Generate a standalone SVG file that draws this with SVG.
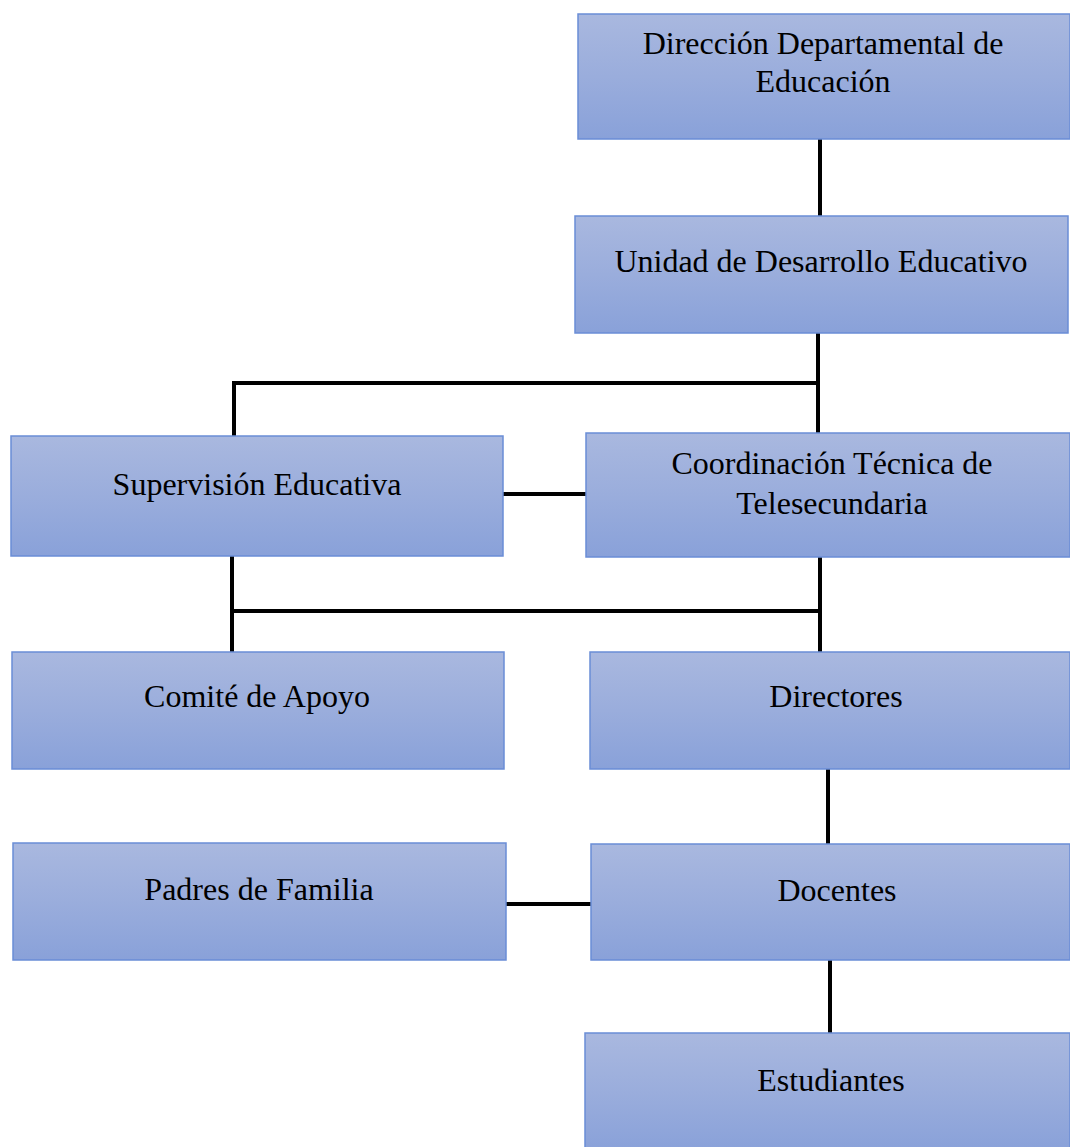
<svg xmlns="http://www.w3.org/2000/svg" width="1070" height="1147" viewBox="0 0 1070 1147">
<defs>
<linearGradient id="g" x1="0" y1="0" x2="0" y2="1">
<stop offset="0" stop-color="#a9b8df"/>
<stop offset="0.5" stop-color="#9aaddc"/>
<stop offset="1" stop-color="#89a1d9"/>
</linearGradient>
</defs>
<style>
.box{fill:url(#g);stroke:#6a8dd6;stroke-width:1.5}
.t{font-family:"Liberation Serif","Times New Roman",serif;font-size:32px;fill:#000;text-anchor:middle}
.c{stroke:#000;stroke-width:4;fill:none}
</style>
<rect width="1070" height="1147" fill="#fff"/>
<g id="connectors">
<line class="c" x1="820" y1="139" x2="820" y2="216"/>
<line class="c" x1="818" y1="333" x2="818" y2="433"/>
<polyline class="c" points="234,436 234,383 820,383"/>
<line class="c" x1="503" y1="494" x2="586" y2="494"/>
<line class="c" x1="232" y1="556" x2="232" y2="652"/>
<line class="c" x1="232" y1="611" x2="820" y2="611"/>
<line class="c" x1="820" y1="557" x2="820" y2="652"/>
<line class="c" x1="828" y1="769" x2="828" y2="844"/>
<line class="c" x1="506" y1="904" x2="591" y2="904"/>
<line class="c" x1="830" y1="960" x2="830" y2="1033"/>
</g>
<g id="n1"><rect class="box" x="578" y="14" width="492" height="125"/><text class="t" x="823" y="54">Dirección Departamental de</text><text class="t" x="823" y="92">Educación</text></g>
<g id="n2"><rect class="box" x="575" y="216" width="493" height="117"/><text class="t" x="821" y="272">Unidad de Desarrollo Educativo</text></g>
<g id="n3"><rect class="box" x="11" y="436" width="492" height="120"/><text class="t" x="257" y="495">Supervisión Educativa</text></g>
<g id="n4"><rect class="box" x="586" y="433" width="484" height="124"/><text class="t" x="832" y="474">Coordinación Técnica de</text><text class="t" x="832" y="514">Telesecundaria</text></g>
<g id="n5"><rect class="box" x="12" y="652" width="492" height="117"/><text class="t" x="257" y="707">Comité de Apoyo</text></g>
<g id="n6"><rect class="box" x="590" y="652" width="480" height="117"/><text class="t" x="836" y="707">Directores</text></g>
<g id="n7"><rect class="box" x="13" y="843" width="493" height="117"/><text class="t" x="259" y="900">Padres de Familia</text></g>
<g id="n8"><rect class="box" x="591" y="844" width="479" height="116"/><text class="t" x="837" y="901">Docentes</text></g>
<g id="n9"><rect class="box" x="585" y="1033" width="485" height="118"/><text class="t" x="831" y="1091">Estudiantes</text></g>
</svg>
